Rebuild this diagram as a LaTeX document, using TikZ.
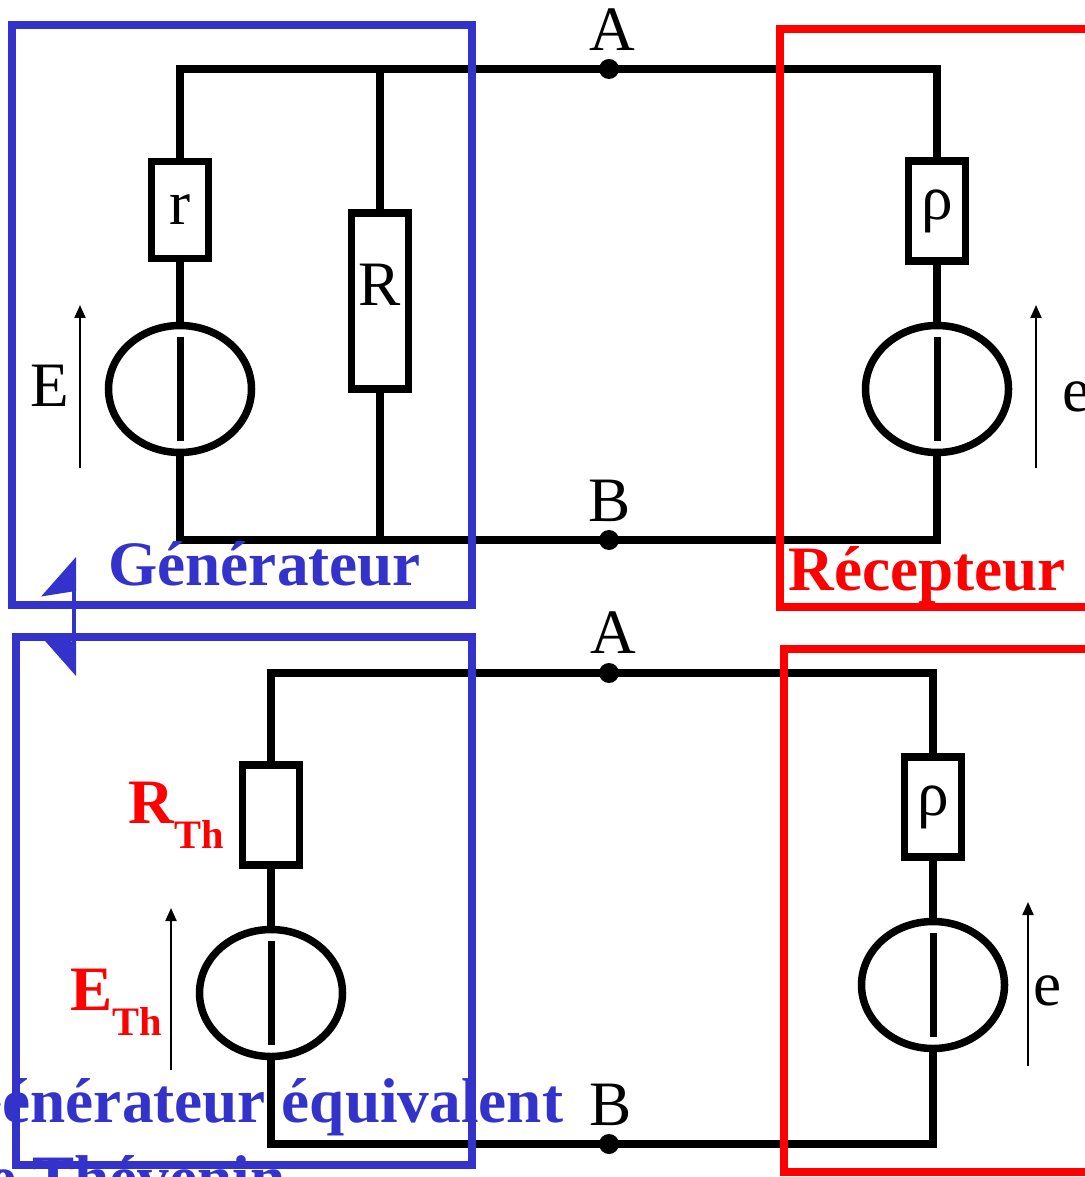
\documentclass[tikz,border=0pt]{standalone}
\usepackage{fontspec}
\setmainfont{Liberation Serif}
\usetikzlibrary{arrows.meta,shapes.geometric}
\definecolor{genblue}{RGB}{51,51,204}
\definecolor{recred}{RGB}{255,0,0}

\begin{document}
\begin{tikzpicture}[x=0.2mm,y=-0.2mm]
\tikzstyle{every node}+=[inner sep=0pt]
\tikzstyle{wire}=[black,line width=1.6mm]
\tikzstyle{res}=[draw,black,line width=1.5mm,rectangle,minimum width=11.4mm,font=\fontsize{36}{40}\selectfont]
\tikzstyle{src}=[draw,black,line width=1.5mm,ellipse,minimum width=28.6mm,minimum height=25.4mm]
\tikzstyle{bar}=[black,line width=1.4mm]
\tikzstyle{volt}=[black,line width=0.4mm,-{Triangle[length=2.6mm,width=2.2mm]}]
\tikzstyle{dot}=[circle,fill=black,minimum size=4mm]
\tikzstyle{lbl}=[font=\fontsize{36}{40}\selectfont]
\tikzstyle{title}=[font=\fontsize{36}{40}\selectfont\bfseries]
\tikzstyle{genbox}=[genblue,line width=1.6mm]
\tikzstyle{recbox}=[recred,line width=1.5mm]
\useasboundingbox (0,0) rectangle (1084,1177);

% generateur reel et recepteur
\coordinate (tl) at (180,69);
\coordinate (tr) at (937,69);
\coordinate (bl) at (180,540);
\coordinate (br) at (937,540);
\node[res,minimum height=19.4mm] (r) at (180,210) {r};
\node[src] (E) at (180,389) {};
\node[res,minimum height=35.2mm] (R) at (380,301) {};
\node[lbl] (Rlbl) at (380,285) {R};
\node[res,minimum height=20mm] (rho) at (937,211) {ρ};
\node[src] (e) at (937,389) {};
\draw[wire] (r) -- (tl) -- (tr) -- (rho);
\draw[wire] (r) -- (E);
\draw[wire] (E) -- (bl) -- (br) -- (e);
\draw[wire] (rho) -- (e);
\draw[wire] (R) -- (R |- tl);
\draw[wire] (R) -- (R |- bl);
\draw[bar] (E.center) ++(0,-52) -- ++(0,104);
\draw[bar] (e.center) ++(0,-52) -- ++(0,104);
\draw[volt] (E.center) ++(-100,79) -- ++(0,-163);
\draw[volt] (e.center) ++(99,79) -- ++(0,-163);
\node[lbl] (Elbl) at (50,386) {E};
\node[lbl] (elbl) at (1077,397) {e};
\node[dot] (A) at (609,69) {};
\node[dot] (B) at (609,540) {};
\node[lbl] (Albl) at (612,30) {A};
\node[lbl] (Blbl) at (610,501) {B};

% generateur de Thevenin et recepteur
\coordinate (tl2) at (271,673);
\coordinate (tr2) at (933,673);
\coordinate (bl2) at (271,1144);
\coordinate (br2) at (933,1144);
\node[res,minimum height=20mm] (rth) at (271,815) {};
\node[src] (eth) at (271,993) {};
\node[res,minimum height=20mm] (rho2) at (933,807) {ρ};
\node[src] (e2) at (933,985) {};
\draw[wire] (rth) -- (tl2) -- (tr2) -- (rho2);
\draw[wire] (rth) -- (eth);
\draw[wire] (eth) -- (bl2) -- (br2) -- (e2);
\draw[wire] (rho2) -- (e2);
\draw[bar] (eth.center) ++(0,-52) -- ++(0,104);
\draw[bar] (e2.center) ++(0,-52) -- ++(0,104);
\draw[volt] (eth.center) ++(-100,77) -- ++(0,-162);
\draw[volt] (e2.center) ++(95,81) -- ++(0,-164);
\node[title,text=recred,anchor=base west] (rthlbl) at (128,823) {R\raisebox{-0.4em}{\fontsize{23}{23}\selectfont Th}};
\node[title,text=recred,anchor=base west] (ethlbl) at (70,1010) {E\raisebox{-0.4em}{\fontsize{23}{23}\selectfont Th}};
\node[lbl] (e2lbl) at (1048,991) {e};
\node[dot] (A2) at (609,673) {};
\node[dot] (B2) at (609,1144) {};
\node[lbl] (A2lbl) at (613,633) {A};
\node[lbl] (B2lbl) at (611,1105) {B};

% cadres
\draw[genbox] (12,25) rectangle (472,605);
\draw[recbox] (780,29) rectangle (1110,607);
\draw[genbox] (16,637) rectangle (472,1165);
\draw[recbox] (784,649) rectangle (1110,1172);
\node[title,text=genblue,anchor=base west] (gen) at (108,585) {Générateur};
\node[title,text=recred,anchor=base west] (rec) at (788,590) {Récepteur};
\node[title,text=genblue,anchor=base west] (thev) at (-47,1122) {Générateur équivalent};
\node[title,text=genblue,anchor=base west] (thev2) at (-47,1199) {de Thévenin};
\coordinate (up) at (74,557);
\coordinate (down) at (74,676);
\draw[genblue,line width=0.8mm,{Stealth[harpoon,length=7.4mm,width=13mm,inset=1mm]}-{Stealth[harpoon,swap,length=7.4mm,width=13mm,inset=1mm]}] (up) -- (down);
\end{tikzpicture}
\end{document}
